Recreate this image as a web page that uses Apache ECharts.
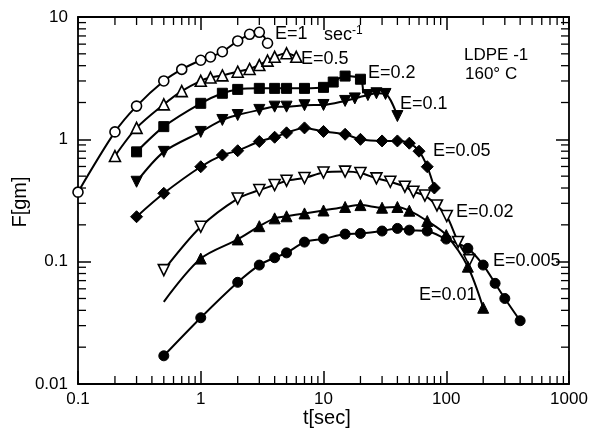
<!DOCTYPE html>
<html>
<head>
<meta charset="utf-8">
<script src="https://cdn.jsdelivr.net/npm/echarts@6/dist/echarts.min.js"></script>
<style>html,body{margin:0;padding:0;background:#fff}#c{width:596px;height:436px}</style>
</head>
<body>
<div id="c"></div>
<script>
// ---- data (t [sec], F [gm]) ----
const tE1 = [0.1, 0.2, 0.3, 0.5, 0.7, 1, 1.2, 1.5, 2, 2.5, 3, 3.5];
const fE1 = [0.37, 1.15, 1.87, 3.0, 3.73, 4.43, 4.71, 5.2, 6.37, 7.22, 7.5, 6.1];

const tE05 = [0.2, 0.3, 0.5, 0.7, 1, 1.2, 1.5, 2, 2.5, 3, 3.5, 4, 5, 6];
const fE05 = [0.73, 1.24, 1.93, 2.48, 3.01, 3.2, 3.33, 3.57, 3.76, 4.05, 4.4, 4.73, 5.05, 4.73];

const tE02 = [0.3, 0.5, 1, 1.5, 2, 3, 4, 5, 7, 10, 12, 15, 20, 21];
const fE02 = [0.79, 1.27, 1.97, 2.38, 2.56, 2.61, 2.61, 2.61, 2.61, 2.66, 2.94, 3.29, 3.1, 2.38];

const tE01 = [0.3, 0.5, 1, 1.5, 2, 3, 4, 5, 7, 10, 15, 18, 23, 27, 32, 40];
const fE01 = [0.45, 0.79, 1.15, 1.44, 1.58, 1.74, 1.85, 1.85, 1.9, 1.91, 2.06, 2.16, 2.3, 2.38, 2.35, 1.55];

const tE005 = [0.3, 0.5, 1, 1.5, 2, 3, 4, 5, 7, 10, 15, 20, 30, 40, 50, 60, 70, 80];
const fE005 = [0.233, 0.362, 0.597, 0.744, 0.807, 0.96, 1.04, 1.13, 1.24, 1.16, 1.1, 1.0, 0.97, 0.97, 0.93, 0.8, 0.597, 0.4];

const tE002 = [0.5, 1, 2, 3, 4, 5, 7, 10, 15, 20, 27, 35, 46, 54, 67, 84, 101, 125, 154];
const fE002 = [0.0853, 0.193, 0.328, 0.385, 0.423, 0.459, 0.483, 0.535, 0.545, 0.53, 0.48, 0.45, 0.41, 0.373, 0.347, 0.288, 0.236, 0.145, 0.103];

const tE001 = [0.5, 1, 2, 3, 4, 5, 7, 10, 15, 20, 30, 40, 50, 70, 100, 150, 200];
const fE001 = [0.047, 0.106, 0.152, 0.195, 0.226, 0.235, 0.248, 0.262, 0.28, 0.29, 0.276, 0.28, 0.261, 0.215, 0.165, 0.091, 0.042];

const tE0005 = [0.5, 1, 2, 3, 4, 5, 7, 10, 15, 20, 30, 40, 50, 70, 100, 150, 200, 250, 300, 400];
const fE0005 = [0.017, 0.0348, 0.0678, 0.0938, 0.1077, 0.118, 0.1445, 0.1536, 0.168, 0.17, 0.178, 0.187, 0.181, 0.178, 0.153, 0.1285, 0.0938, 0.0665, 0.05, 0.0329];

const xTickLabels = [0.1, 1, 10, 100, 1000];
const yTickLabels = [0.01, 0.1, 1, 10];

// minor tick positions (2..9 per decade)
function minors(lo, hi) {
  const out = [];
  for (let d = lo; d < hi; d *= 10) for (let k = 2; k <= 9; k++) out.push(+(k * d).toPrecision(3));
  return out;
}
const xMinor = minors(0.1, 1000);
const yMinor = minors(0.01, 10);

const chart = echarts.init(document.getElementById('c'), null, {renderer: 'canvas'});
const FONT = 'Liberation Sans';

function pairs(t, f, noSym) {
  return t.map((x, i) => {
    const it = {value: [x, f[i]]};
    if (noSym && noSym.indexOf(i) >= 0) it.symbol = 'none';
    return it;
  });
}
function lineSeries(name, t, f, symbol, open, rotate, noSym, size) {
  return {
    name, type: 'line', xAxisIndex: 0, yAxisIndex: 0,
    data: pairs(t, f, noSym),
    smooth: 0.3,
    symbol, symbolSize: size || 10, symbolRotate: rotate || 0,
    showAllSymbol: true,
    lineStyle: {color: '#000', width: 2},
    itemStyle: open ? {color: '#fff', borderColor: '#000', borderWidth: 1.6}
                    : {color: '#000', borderColor: '#000', borderWidth: 1},
    emphasis: {disabled: true},
    z: 3
  };
}

const minorLen = 8;
const tickStyle = {stroke: '#000', lineWidth: 1.3};

const option = {
  animation: false,
  backgroundColor: '#fff',
  grid: {left: 78, right: 27, top: 17, bottom: 52},
  xAxis: [
    {type: 'log', logBase: 10, min: 0.1, max: 1000, position: 'bottom', splitNumber: 4,
     axisLine: {show: true, onZero: false, lineStyle: {color: '#000', width: 1.8}},
     axisTick: {show: true, inside: true, length: 13, lineStyle: {color: '#000', width: 1.5}},
     axisLabel: {color: '#000', fontSize: 17, fontFamily: FONT, margin: 7,
       formatter: v => { const r = +(+v).toPrecision(3); return xTickLabels.indexOf(r) >= 0 ? String(r) : ''; }},
     splitLine: {show: false}},
    {type: 'log', logBase: 10, min: 0.1, max: 1000, position: 'top', splitNumber: 4,
     axisLine: {show: true, onZero: false, lineStyle: {color: '#000', width: 1.8}},
     axisTick: {show: true, inside: true, length: 13, lineStyle: {color: '#000', width: 1.5}},
     axisLabel: {show: false}, splitLine: {show: false}}
  ],
  yAxis: [
    {type: 'log', logBase: 10, min: 0.01, max: 10, position: 'left', splitNumber: 3,
     axisLine: {show: true, onZero: false, lineStyle: {color: '#000', width: 1.8}},
     axisTick: {show: true, inside: true, length: 13, lineStyle: {color: '#000', width: 1.5}},
     axisLabel: {color: '#000', fontSize: 17, fontFamily: FONT, margin: 10,
       formatter: v => { const r = +(+v).toPrecision(3); return yTickLabels.indexOf(r) >= 0 ? String(r) : ''; }},
     splitLine: {show: false}},
    {type: 'log', logBase: 10, min: 0.01, max: 10, position: 'right', splitNumber: 3,
     axisLine: {show: true, onZero: false, lineStyle: {color: '#000', width: 1.8}},
     axisTick: {show: true, inside: true, length: 13, lineStyle: {color: '#000', width: 1.5}},
     axisLabel: {show: false}, splitLine: {show: false}}
  ],
  series: [
    {type: 'custom', xAxisIndex: 0, yAxisIndex: 0, silent: true, z: 2,
     data: xMinor.map(v => [v, 1]),
     renderItem: (params, api) => {
       const p = api.coord([api.value(0), 1]);
       const cs = params.coordSys;
       return {type: 'group', children: [
         {type: 'line', shape: {x1: p[0], y1: cs.y + cs.height, x2: p[0], y2: cs.y + cs.height - minorLen}, style: tickStyle},
         {type: 'line', shape: {x1: p[0], y1: cs.y, x2: p[0], y2: cs.y + minorLen}, style: tickStyle}
       ]};
     }},
    {type: 'custom', xAxisIndex: 0, yAxisIndex: 0, silent: true, z: 2,
     data: yMinor.map(v => [1, v]),
     renderItem: (params, api) => {
       const p = api.coord([1, api.value(1)]);
       const cs = params.coordSys;
       return {type: 'group', children: [
         {type: 'line', shape: {x1: cs.x, y1: p[1], x2: cs.x + minorLen, y2: p[1]}, style: tickStyle},
         {type: 'line', shape: {x1: cs.x + cs.width, y1: p[1], x2: cs.x + cs.width - minorLen, y2: p[1]}, style: tickStyle}
       ]};
     }},
    lineSeries('E=1', tE1, fE1, 'circle', true, 0),
    lineSeries('E=0.5', tE05, fE05, 'triangle', true, 0, null, 11),
    lineSeries('E=0.2', tE02, fE02, 'rect', false, 0, [13]),
    lineSeries('E=0.1', tE01, fE01, 'triangle', false, 180, null, 11),
    lineSeries('E=0.05', tE005, fE005, 'diamond', false, 0, null, 12),
    lineSeries('E=0.02', tE002, fE002, 'triangle', true, 180, null, 11),
    lineSeries('E=0.01', tE001, fE001, 'triangle', false, 0, [0], 11),
    lineSeries('E=0.005', tE0005, fE0005, 'circle', false, 0)
  ],
  graphic: [
    {type: 'text', left: 275, top: 25, style: {text: 'E=1', font: '18px ' + FONT, fill: '#000'}},
    {type: 'text', left: 324, top: 25, style: {text: 'sec{s|-1}', font: '18px ' + FONT, fill: '#000',
      rich: {s: {fontSize: 12, fontFamily: FONT, verticalAlign: 'top', padding: [0, 0, 8, 0]}}}},
    {type: 'text', left: 301, top: 50, style: {text: 'E=0.5', font: '18px ' + FONT, fill: '#000'}},
    {type: 'text', left: 368, top: 64, style: {text: 'E=0.2', font: '18px ' + FONT, fill: '#000'}},
    {type: 'text', left: 400, top: 95, style: {text: 'E=0.1', font: '18px ' + FONT, fill: '#000'}},
    {type: 'text', left: 433, top: 142, style: {text: 'E=0.05', font: '18px ' + FONT, fill: '#000'}},
    {type: 'text', left: 456, top: 203, style: {text: 'E=0.02', font: '18px ' + FONT, fill: '#000'}},
    {type: 'text', left: 493, top: 252, style: {text: 'E=0.005', font: '18px ' + FONT, fill: '#000'}},
    {type: 'text', left: 419, top: 286, style: {text: 'E=0.01', font: '18px ' + FONT, fill: '#000'}},
    {type: 'text', left: 464, top: 47, style: {text: 'LDPE -1', font: '17px ' + FONT, fill: '#000'}},
    {type: 'text', left: 465, top: 66, style: {text: '160° C', font: '17px ' + FONT, fill: '#000'}},
    {type: 'text', left: 303, top: 408, style: {text: 't[sec]', font: '20px ' + FONT, fill: '#000'}},
    {type: 'text', x: 20, y: 202, rotation: Math.PI / 2,
     style: {text: 'F[gm]', font: '20px ' + FONT, fill: '#000', align: 'center', verticalAlign: 'middle'}}
  ]
};
chart.setOption(option);
</script>
</body>
</html>
